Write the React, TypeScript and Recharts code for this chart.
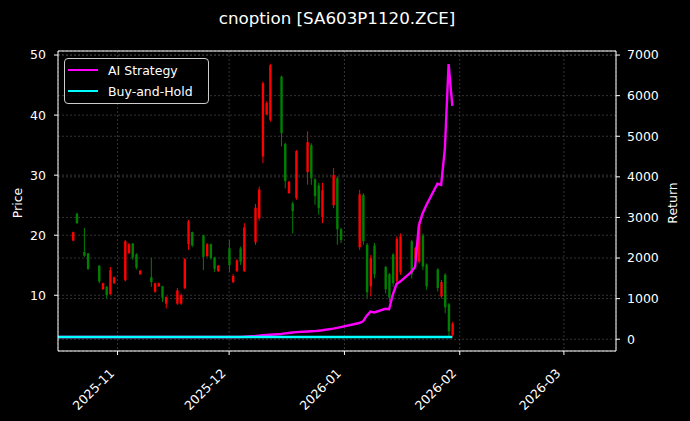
import { ComposedChart, Bar, Line, XAxis, YAxis, CartesianGrid, ReferenceLine, Legend } from "recharts"

// trading days with a candle
const candleDates = [
  "2025-10-20", "2025-10-21", "2025-10-23", "2025-10-24",
  "2025-10-27", "2025-10-28", "2025-10-29", "2025-10-30", "2025-10-31",
  "2025-11-03", "2025-11-04", "2025-11-05", "2025-11-06", "2025-11-07",
  "2025-11-10", "2025-11-11", "2025-11-12", "2025-11-13", "2025-11-14",
  "2025-11-17", "2025-11-18", "2025-11-19", "2025-11-20", "2025-11-21",
  "2025-11-24", "2025-11-25", "2025-11-26", "2025-11-27", "2025-11-28",
  "2025-12-01", "2025-12-02", "2025-12-03", "2025-12-04", "2025-12-05",
  "2025-12-08", "2025-12-09", "2025-12-10", "2025-12-11", "2025-12-12",
  "2025-12-15", "2025-12-16", "2025-12-17", "2025-12-18", "2025-12-19",
  "2025-12-22", "2025-12-23", "2025-12-24", "2025-12-25", "2025-12-26",
  "2025-12-29", "2025-12-30", "2025-12-31",
  "2026-01-05", "2026-01-06", "2026-01-07", "2026-01-08", "2026-01-09",
  "2026-01-12", "2026-01-13", "2026-01-14", "2026-01-15", "2026-01-16",
  "2026-01-19", "2026-01-20", "2026-01-21", "2026-01-22", "2026-01-23",
  "2026-01-26", "2026-01-27", "2026-01-28", "2026-01-29", "2026-01-30",
]

const opens = [
  19.1, 23.6, 17.2, 17.0,
  14.9, 11.0, 11.4, 10.2, 12.0,
  12.5, 17.0, 18.6, 16.8, 13.5,
  13.0, 10.6, 11.5, 11.5, 8.6,
  8.6, 8.6, 11.2, 18.5, 20.5,
  20.0, 16.5, 18.5, 16.3, 14.0,
  17.8, 12.2, 14.0, 17.8, 14.0,
  18.8, 22.8, 33.1, 40.1, 39.2,
  46.4, 35.2, 27.0, 25.3, 26.2,
  30.5, 35.0, 29.3, 28.3, 23.0,
  25.0, 29.5, 21.0,
  18.0, 26.7, 18.4, 11.5, 18.3,
  14.7, 13.5, 16.8, 12.4, 13.8,
  19.0, 16.0, 15.6, 20.0, 15.1,
  14.3, 9.8, 13.4, 8.5, 3.4,
]

const highs = [
  20.6, 23.7, 21.2, 17.0,
  15.05, 12.1, 11.55, 14.7, 13.1,
  19.2, 18.7, 18.7, 17.0, 14.2,
  16.2, 12.1, 12.1, 11.55, 9.8,
  11.2, 10.3, 16.2, 22.55, 20.6,
  20.05, 18.7, 18.6, 16.4, 15.05,
  19.2, 13.55, 16.0, 18.1, 22.0,
  25.2, 28.1, 45.6, 42.3, 48.55,
  46.55, 35.4, 29.05, 25.6, 34.2,
  37.3, 35.3, 29.5, 28.7, 28.7,
  31.2, 29.8, 21.2,
  27.55, 27.0, 18.7, 16.7, 18.7,
  14.9, 13.7, 17.0, 19.8, 20.3,
  19.2, 18.1, 22.3, 20.3, 15.3,
  14.5, 12.55, 13.7, 8.7, 5.6,
]

const lows = [
  19.0, 21.9, 16.4, 14.2,
  12.0, 10.9, 9.5, 10.05, 11.9,
  12.3, 16.9, 15.9, 14.3, 13.4,
  11.4, 10.4, 11.4, 8.9, 7.8,
  8.4, 8.4, 11.0, 17.55, 18.0,
  14.2, 16.4, 15.9, 13.9, 13.9,
  13.9, 12.0, 13.9, 15.05, 13.9,
  18.4, 22.4, 32.0, 40.05, 38.9,
  34.8, 27.8, 26.9, 20.3, 25.9,
  28.4, 28.4, 25.05, 23.4, 22.0,
  24.5, 18.4, 18.7,
  17.55, 18.4, 9.5, 9.8, 12.8,
  10.3, 8.9, 11.4, 12.0, 13.4,
  12.8, 15.9, 15.3, 14.2, 10.9,
  10.6, 9.5, 7.0, 3.1, 3.1,
]

const closes = [
  20.5, 22.0, 16.6, 14.4,
  12.3, 12.0, 10.05, 14.2, 13.0,
  19.0, 18.5, 16.3, 14.6, 14.1,
  12.2, 12.0, 12.0, 9.6, 9.7,
  10.8, 10.0, 16.0, 22.3, 18.3,
  16.4, 18.5, 16.2, 14.4, 14.9,
  15.0, 13.2, 15.8, 15.6, 21.3,
  24.6, 27.6, 45.3, 42.0, 48.3,
  37.0, 29.0, 28.9, 24.0, 34.0,
  35.5, 29.5, 26.5, 24.5, 27.5,
  30.0, 21.0, 19.2,
  26.8, 19.0, 10.5, 16.2, 13.5,
  11.0, 9.6, 12.0, 19.4, 19.8,
  13.5, 17.9, 21.8, 14.8, 11.5,
  11.2, 12.2, 8.0, 4.0, 5.3,
]

// equity curves start two sessions before the first candle
const lineDates = ["2025-10-16", "2025-10-17", ...candleDates]

const aiStrategy = [
  55, 55,
  55, 55, 55, 55,
  55, 55, 55, 55, 55,
  55, 55, 55, 55, 55,
  55, 55, 55, 55, 55,
  55, 55, 55, 55, 55,
  55, 55, 55, 55, 55,
  55, 55, 55, 55, 60,
  80, 90, 100, 105, 110,
  130, 145, 155, 165, 175,
  190, 195, 200, 210, 220,
  260, 280, 300,
  400, 440, 580, 680, 660,
  750, 740, 1100, 1360, 1420,
  1660, 1790, 2800, 3100, 3300,
  3830, 3800, 4700, 6780, 5750,
]

const buyHold = [
  55, 55,
  55, 55, 55, 55,
  55, 55, 55, 55, 55,
  55, 55, 55, 55, 55,
  55, 55, 55, 55, 55,
  55, 55, 55, 55, 55,
  55, 55, 55, 55, 55,
  55, 55, 55, 55, 55,
  55, 55, 55, 55, 55,
  55, 55, 55, 55, 55,
  55, 55, 55, 55, 55,
  55, 55, 55,
  55, 55, 55, 55, 55,
  55, 55, 55, 55, 55,
  55, 55, 55, 55, 55,
  55, 55, 55, 55, 55,
]

const monthTicks = ["2025-11-01", "2025-12-01", "2026-01-01", "2026-02-01", "2026-03-01"]
const priceTicks = [10, 20, 30, 40, 50]
const returnTicks = [0, 1000, 2000, 3000, 4000, 5000, 6000, 7000]

const DAY = 86400000
const ORIGIN = Date.UTC(2025, 10, 1)

function toDay(s: string) {
  const [y, m, d] = s.split("-").map(Number)
  return (Date.UTC(y, m - 1, d) - ORIGIN) / DAY
}

function monthLabel(t: number) {
  const dt = new Date(ORIGIN + t * DAY)
  return `${dt.getUTCFullYear()}-${String(dt.getUTCMonth() + 1).padStart(2, "0")}`
}

const X_DOMAIN = [toDay("2025-10-16"), toDay("2026-03-15")]
const PRICE_DOMAIN = [0.72, 50.67]
const RETURN_DOMAIN = [-290, 7100]

const FONT = "DejaVu Sans"

const data = lineDates.map((d, i) => {
  const k = candleDates.indexOf(d)
  return {
    t: toDay(d),
    ai: aiStrategy[i],
    bh: buyHold[i],
    open: k >= 0 ? opens[k] : null,
    high: k >= 0 ? highs[k] : null,
    low: k >= 0 ? lows[k] : null,
    close: k >= 0 ? closes[k] : null,
  }
})

function Candle(props: any) {
  const { x, y, width, height, payload } = props
  if (!payload || payload.open == null || !isFinite(y) || !isFinite(height)) return <g />
  const { open, close, high, low } = payload
  const cx = x + width / 2
  const unit = high > low ? height / (high - low) : 0
  const yOf = (v: number) => y + (high - v) * unit
  const color = close >= open ? "#ff0000" : "#008000"
  const top = yOf(Math.max(open, close))
  const bottom = yOf(Math.min(open, close))
  return (
    <g>
      <line x1={cx} x2={cx} y1={y} y2={y + height} stroke={color} strokeWidth={1} />
      <rect x={x} y={top} width={width} height={Math.max(bottom - top, 0.8)} fill={color} />
    </g>
  )
}

function DateTick(props: any) {
  const { x, y, payload } = props
  const ex = x - 2.5
  const ey = y + 16
  return (
    <text
      x={ex}
      y={ey}
      textAnchor="end"
      transform={`rotate(-45, ${ex}, ${ey})`}
      fill="#ffffff"
      fontSize={12.5}
      fontFamily={FONT}
    >
      {monthLabel(payload.value)}
    </text>
  )
}

const legendItems = [
  { label: "AI Strategy", color: "#ff00ff" },
  { label: "Buy-and-Hold", color: "#00ffff" },
]

function LegendBox() {
  return (
    <div
      style={{
        boxSizing: "border-box",
        width: 145,
        height: 46,
        border: "1px solid #cccccc",
        borderRadius: 4,
        background: "rgba(0,0,0,0.8)",
        position: "relative",
        fontFamily: FONT,
        fontSize: 12.5,
        color: "#ffffff",
      }}
    >
      {legendItems.map((item, i) => (
        <div
          key={item.label}
          style={{
            position: "absolute",
            left: 3,
            top: 1 + i * 21,
            height: 20,
            display: "flex",
            alignItems: "center",
            whiteSpace: "nowrap",
          }}
        >
          <div style={{ width: 30, height: 2, background: item.color }} />
          <span style={{ marginLeft: 10 }}>{item.label}</span>
        </div>
      ))}
    </div>
  )
}

export default function App() {
  return (
    <div
      style={{
        position: "absolute",
        left: 0,
        top: 0,
        width: 690,
        height: 421,
        background: "#000000",
        fontFamily: FONT,
      }}
    >
      <div
        style={{
          position: "absolute",
          left: 58,
          width: 558,
          top: 8,
          textAlign: "center",
          color: "#ffffff",
          fontSize: 16.7,
          lineHeight: "20px",
          whiteSpace: "nowrap",
        }}
      >
        cnoption [SA603P1120.ZCE]
      </div>

      <ComposedChart
        width={690}
        height={421}
        data={data}
        margin={{ top: 51, right: 0, bottom: 0, left: 0 }}
        style={{ fontFamily: FONT }}
      >
        <CartesianGrid yAxisId="price" stroke="#4a4a4a" strokeDasharray="2 2" strokeWidth={0.7} />
        <CartesianGrid yAxisId="ret" vertical={false} stroke="#4a4a4a" strokeDasharray="2 2" strokeWidth={0.7} />

        <XAxis
          dataKey="t"
          type="number"
          domain={X_DOMAIN}
          allowDataOverflow
          ticks={monthTicks.map(toDay)}
          tick={<DateTick />}
          height={70}
          tickSize={4}
          tickMargin={3}
          axisLine={{ stroke: "#ffffff" }}
          tickLine={{ stroke: "#ffffff" }}
          interval={0}
        />
        <YAxis
          yAxisId="price"
          orientation="left"
          width={58}
          domain={PRICE_DOMAIN}
          allowDataOverflow
          ticks={priceTicks}
          tickSize={4}
          tickMargin={8}
          tick={{ fill: "#ffffff", fontSize: 12.5, fontFamily: FONT }}
          axisLine={{ stroke: "#ffffff" }}
          tickLine={{ stroke: "#ffffff" }}
          interval={0}
        />
        <YAxis
          yAxisId="ret"
          orientation="right"
          width={74}
          domain={RETURN_DOMAIN}
          allowDataOverflow
          ticks={returnTicks}
          tickSize={4}
          tickMargin={7}
          tick={{ fill: "#ffffff", fontSize: 12.5, fontFamily: FONT, textAnchor: "start" }}
          axisLine={{ stroke: "#ffffff" }}
          tickLine={{ stroke: "#ffffff" }}
          interval={0}
        />

        <Bar
          yAxisId="price"
          dataKey={(d: any) => (d.high != null ? [d.low, d.high] : null)}
          barSize={2.4}
          shape={<Candle />}
          isAnimationActive={false}
          legendType="none"
        />

        <Line
          yAxisId="ret"
          dataKey="ai"
          name="AI Strategy"
          stroke="#ff00ff"
          strokeWidth={2.4}
          dot={false}
          isAnimationActive={false}
        />
        <Line
          yAxisId="ret"
          dataKey="bh"
          name="Buy-and-Hold"
          stroke="#00ffff"
          strokeWidth={2.4}
          dot={false}
          isAnimationActive={false}
        />

        <ReferenceLine yAxisId="price" y={PRICE_DOMAIN[1]} stroke="#ffffff" strokeWidth={1} />

        <Legend
          layout="horizontal"
          verticalAlign="middle"
          align="center"
          content={() => <LegendBox />}
          wrapperStyle={{ left: 64, top: 58, width: 145, height: 46 }}
        />
      </ComposedChart>

      <div
        style={{
          position: "absolute",
          left: 17,
          top: 203,
          transform: "translate(-50%, -50%) rotate(-90deg)",
          color: "#ffffff",
          fontSize: 12.5,
          whiteSpace: "nowrap",
        }}
      >
        Price
      </div>
      <div
        style={{
          position: "absolute",
          left: 672,
          top: 203,
          transform: "translate(-50%, -50%) rotate(-90deg)",
          color: "#ffffff",
          fontSize: 12.5,
          whiteSpace: "nowrap",
        }}
      >
        Return
      </div>
    </div>
  )
}
